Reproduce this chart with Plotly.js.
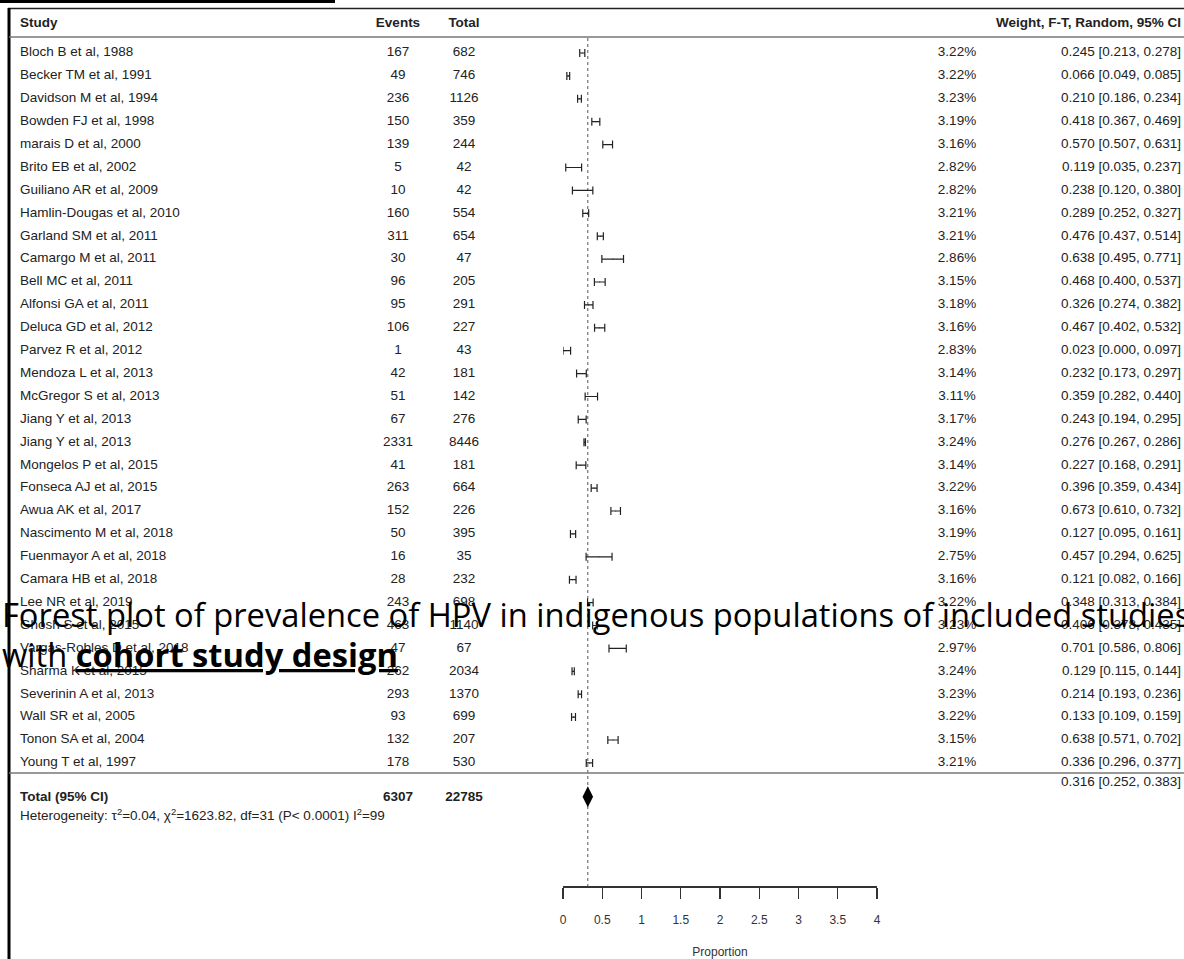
<!DOCTYPE html>
<html>
<head>
<meta charset="utf-8">
<script src="https://cdn.plot.ly/plotly-3.0.1.min.js"></script>
<style>
  html, body { margin: 0; padding: 0; background: #fff; }
  #chart { width: 1184px; height: 959px; }
</style>
</head>
<body>
<div id="chart"></div>
<script>
// ---------------- DATA ----------------
const studies = [
  "Bloch B et al, 1988", "Becker TM et al, 1991", "Davidson M et al, 1994", "Bowden FJ et al, 1998",
  "marais D et al, 2000", "Brito EB et al, 2002", "Guiliano AR et al, 2009", "Hamlin-Dougas et al, 2010",
  "Garland SM et al, 2011", "Camargo M et al, 2011", "Bell MC et al, 2011", "Alfonsi GA et al, 2011",
  "Deluca GD et al, 2012", "Parvez R et al, 2012", "Mendoza L et al, 2013", "McGregor S et al, 2013",
  "Jiang Y et al, 2013", "Jiang Y et al, 2013", "Mongelos P et al, 2015", "Fonseca AJ et al, 2015",
  "Awua AK et al, 2017", "Nascimento M et al, 2018", "Fuenmayor A et al, 2018", "Camara HB et al, 2018",
  "Lee NR et al, 2019", "Ghosh S et al, 2015", "Vargas-Robles D et al, 2018", "Sharma K et al, 2015",
  "Severinin A et al, 2013", "Wall SR et al, 2005", "Tonon SA et al, 2004", "Young T et al, 1997"
];
const events = [167, 49, 236, 150, 139, 5, 10, 160, 311, 30, 96, 95, 106, 1, 42, 51, 67, 2331, 41, 263, 152, 50, 16, 28, 243, 463, 47, 262, 293, 93, 132, 178];
const totals = [682, 746, 1126, 359, 244, 42, 42, 554, 654, 47, 205, 291, 227, 43, 181, 142, 276, 8446, 181, 664, 226, 395, 35, 232, 698, 1140, 67, 2034, 1370, 699, 207, 530];
const weights = [3.22, 3.22, 3.23, 3.19, 3.16, 2.82, 2.82, 3.21, 3.21, 2.86, 3.15, 3.18, 3.16, 2.83, 3.14, 3.11, 3.17, 3.24, 3.14, 3.22, 3.16, 3.19, 2.75, 3.16, 3.22, 3.23, 2.97, 3.24, 3.23, 3.22, 3.15, 3.21];
const estimate = [0.245, 0.066, 0.210, 0.418, 0.570, 0.119, 0.238, 0.289, 0.476, 0.638, 0.468, 0.326, 0.467, 0.023, 0.232, 0.359, 0.243, 0.276, 0.227, 0.396, 0.673, 0.127, 0.457, 0.121, 0.348, 0.406, 0.701, 0.129, 0.214, 0.133, 0.638, 0.336];
const lower = [0.213, 0.049, 0.186, 0.367, 0.507, 0.035, 0.120, 0.252, 0.437, 0.495, 0.400, 0.274, 0.402, 0.000, 0.173, 0.282, 0.194, 0.267, 0.168, 0.359, 0.610, 0.095, 0.294, 0.082, 0.313, 0.378, 0.586, 0.115, 0.193, 0.109, 0.571, 0.296];
const upper = [0.278, 0.085, 0.234, 0.469, 0.631, 0.237, 0.380, 0.327, 0.514, 0.771, 0.537, 0.382, 0.532, 0.097, 0.297, 0.440, 0.295, 0.286, 0.291, 0.434, 0.732, 0.161, 0.625, 0.166, 0.384, 0.435, 0.806, 0.144, 0.236, 0.159, 0.702, 0.377];
const pooled = { est: 0.316, lo: 0.252, hi: 0.383 };
const totalEvents = 6307;
const totalN = 22785;
const heterogeneity = "Heterogeneity: \u03C4<sup>2</sup>=0.04, \u03C7<sup>2</sup>=1623.82, df=31 (P< 0.0001) I<sup>2</sup>=99";
const tickVals = [0, 0.5, 1, 1.5, 2, 2.5, 3, 3.5, 4];
const tickText = ["0", "0.5", "1", "1.5", "2", "2.5", "3", "3.5", "4"];
const headers = { study: "Study", events: "Events", total: "Total", right: "Weight, F-T, Random, 95% CI" };
const overlayLine1 = "Forest plot of prevalence of HPV in indigenous populations of included studies";
const overlayLine2 = "with <b><u>cohort study design</u></b>";

// ---------------- LAYOUT HELPERS ----------------
const W = 1184, H = 959;
const ROW0 = 53, ROWH = 22.9;              // pixel of first row, row spacing
const rowOf = px => 1 + (px - ROW0) / ROWH; // pixel -> row units
const rows = studies.map((_, i) => i + 1);
const FONT = "Liberation Sans, Arial, sans-serif";
const fs = 13.5;
const col = { study: 20, events: 398, total: 464, weight: 957, ci: 1181 };

const fmt3 = v => v.toFixed(3);
const ciText = estimate.map((e, i) => `${fmt3(e)} [${fmt3(lower[i])}, ${fmt3(upper[i])}]`);

function textTrace(xpos, ys, texts, pos, bold, size) {
  return {
    type: 'scatter', mode: 'text', xaxis: 'x2', yaxis: 'y2',
    x: ys.map(() => xpos), y: ys, text: texts, textposition: pos,
    textfont: { family: FONT, size: size || fs, color: '#222', weight: bold ? 'bold' : 'normal' },
    hoverinfo: 'skip', showlegend: false, cliponaxis: false
  };
}

const yHeader = rowOf(24);
const yTotal = rowOf(798);
const yPooledText = rowOf(783);
const yHet = rowOf(817);

const traces = [
  // headers
  textTrace(col.study, [yHeader], [headers.study], 'middle right', true),
  textTrace(col.events, [yHeader], [headers.events], 'middle center', true),
  textTrace(col.total, [yHeader], [headers.total], 'middle center', true),
  textTrace(col.ci, [yHeader], [headers.right], 'middle left', true),
  // study columns
  textTrace(col.study, rows, studies, 'middle right', false),
  textTrace(col.events, rows, events.map(String), 'middle center', false),
  textTrace(col.total, rows, totals.map(String), 'middle center', false),
  textTrace(col.weight, rows, weights.map(w => w.toFixed(2) + '%'), 'middle center', false),
  textTrace(col.ci, rows, ciText, 'middle left', false),
  // totals
  textTrace(col.study, [yTotal], ["Total (95% CI)"], 'middle right', true),
  textTrace(col.events, [yTotal], [String(totalEvents)], 'middle center', true),
  textTrace(col.total, [yTotal], [String(totalN)], 'middle center', true),
  textTrace(col.ci, [yPooledText], [`${fmt3(pooled.est)} [${fmt3(pooled.lo)}, ${fmt3(pooled.hi)}]`], 'middle left', false),
  textTrace(col.study, [yHet], [heterogeneity], 'middle right', false),
  // dotted reference line at pooled estimate
  {
    type: 'scatter', mode: 'lines', xaxis: 'x', yaxis: 'y',
    x: [pooled.est, pooled.est], y: [rowOf(38), rowOf(886)],
    line: { color: '#555', width: 1, dash: 'dot' }, hoverinfo: 'skip', showlegend: false
  },
  // study CIs
  {
    type: 'scatter', mode: 'markers', xaxis: 'x', yaxis: 'y',
    x: estimate, y: rows,
    marker: { size: 1, color: '#222' },
    error_x: {
      type: 'data', symmetric: false,
      array: estimate.map((e, i) => upper[i] - e),
      arrayminus: estimate.map((e, i) => e - lower[i]),
      color: '#222', thickness: 1.2, width: 4
    },
    hoverinfo: 'skip', showlegend: false
  },
  // pooled diamond
  {
    type: 'scatter', mode: 'markers', xaxis: 'x', yaxis: 'y',
    x: [pooled.est], y: [yTotal - 0.05],
    marker: { symbol: 'diamond-tall', size: 15, color: '#000' },
    hoverinfo: 'skip', showlegend: false
  }
];

const hline = (x0, x1, y, w, c) => ({ type: 'line', xref: 'paper', yref: 'paper', x0: x0 / W, x1: x1 / W, y0: 1 - y / H, y1: 1 - y / H, line: { color: c, width: w } });

const layout = {
  width: W, height: H,
  margin: { l: 0, r: 0, t: 0, b: 0 },
  paper_bgcolor: '#fff', plot_bgcolor: 'rgba(0,0,0,0)',
  showlegend: false,
  xaxis: {
    domain: [563 / W, 877 / W], range: [0, 4],
    anchor: 'free', position: 1 - 886 / H,
    showline: true, linecolor: '#333', linewidth: 1.5,
    ticks: 'outside', ticklen: 11, tickwidth: 1.3, tickcolor: '#333',
    tickvals: tickVals, ticktext: tickText,
    tickfont: { family: FONT, size: 12, color: '#333' },
    ticklabelstandoff: 11,
    showgrid: false, zeroline: false, fixedrange: true,
    title: { text: 'Proportion', font: { family: FONT, size: 12, color: '#333' }, standoff: 21 }
  },
  yaxis: { domain: [0, 1], range: [rowOf(H), rowOf(0)], visible: false, fixedrange: true },
  xaxis2: { domain: [0, 1], range: [0, W], anchor: 'y2', visible: false, fixedrange: true },
  yaxis2: { domain: [0, 1], range: [rowOf(H), rowOf(0)], anchor: 'x2', visible: false, fixedrange: true },
  shapes: [
    { type: 'rect', xref: 'paper', yref: 'paper', x0: 0, x1: 335 / W, y0: 1, y1: 1 - 3 / H, fillcolor: '#000', line: { width: 0 } },
    hline(8, W, 8.5, 1.5, '#222'),
    { type: 'line', xref: 'paper', yref: 'paper', x0: 9 / W, x1: 9 / W, y0: 1 - 8 / H, y1: 0, line: { color: '#000', width: 3 } },
    hline(9, W, 37, 1.3, '#777'),
    hline(9, W, 773, 1.3, '#777')
  ],
  annotations: [
    { xref: 'paper', yref: 'paper', x: 0, y: 1 - 614 / H, xanchor: 'left', yanchor: 'middle',
      text: overlayLine1, showarrow: false, font: { family: 'Open Sans, Noto Sans, sans-serif', size: 32.7, color: '#000' } },
    { xref: 'paper', yref: 'paper', x: 0, y: 1 - 654 / H, xanchor: 'left', yanchor: 'middle',
      text: overlayLine2, showarrow: false, font: { family: 'Open Sans, Noto Sans, sans-serif', size: 32.7, color: '#000' } }
  ]
};

Plotly.newPlot('chart', traces, layout, { staticPlot: true, displayModeBar: false });
</script>
</body>
</html>
